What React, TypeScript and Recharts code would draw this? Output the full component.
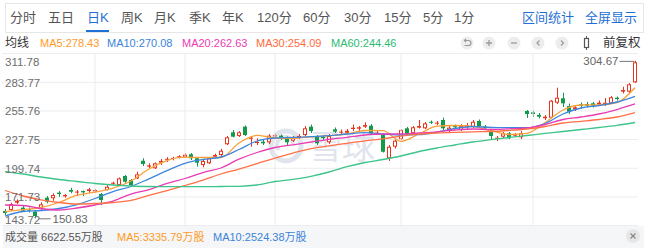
import React from 'react';
import { ComposedChart, Bar, Line, XAxis, YAxis, CartesianGrid, ReferenceLine } from 'recharts';

// daily candles, oldest first (前复权 prices)
const openPrices = [
    157.98, 158.96, 166.1, 161.2, 159.4, 157.3, 159.9, 170.97, 170.4, 175.9,
    172.3, 178.5, 176.0, 177.5, 177.5, 177.2, 174.6, 178.5, 184.6, 183.4,
    192.2, 188.3, 189.9, 207.1, 201.3, 199.7, 205.2, 208.2, 208.8, 210.3,
    210.8, 213.4, 209.5, 202.9, 204.6, 211.0, 212.7, 223.2, 234.9, 231.3,
    240.4, 228.6, 224.4, 225.7, 225.1, 230.9, 231.6, 230.0, 226.7, 230.0,
    232.2, 240.4, 230.3, 230.6, 225.1, 237.8, 234.5, 234.5, 238.1, 238.4,
    240.4, 241.3, 233.5, 232.2, 209.5, 220.8, 228.3, 238.8, 233.9, 239.4,
    238.8, 245.2, 243.3, 246.9, 236.1, 241.0, 237.1, 239.8, 240.1, 245.9,
    240.4, 235.5, 229.0, 230.6, 233.9, 231.6, 230.0, 255.7, 254.4, 251.8,
    248.6, 249.1, 263.8, 268.1, 260.6, 257.6, 262.2, 262.5, 263.2, 262.2,
    262.5, 263.2, 268.7, 274.6, 274.6, 283.7,
];
const highPrices = [
    159.9, 166.1, 169.4, 162.9, 161.5, 159.0, 166.5, 172.6, 175.3, 177.5,
    174.5, 180.7, 178.5, 178.0, 180.4, 179.5, 175.6, 183.4, 186.6, 190.8,
    193.2, 189.2, 196.4, 209.5, 204.6, 205.5, 208.8, 210.6, 211.0, 212.5,
    214.6, 214.6, 210.5, 207.8, 210.5, 214.1, 218.6, 231.3, 237.1, 236.1,
    241.5, 230.3, 229.0, 227.4, 233.2, 233.5, 232.7, 230.8, 231.3, 233.2,
    241.0, 242.5, 232.2, 232.2, 233.2, 239.6, 237.6, 238.1, 242.5, 241.0,
    244.6, 242.9, 236.1, 233.7, 222.5, 227.8, 238.1, 240.1, 241.0, 246.9,
    244.9, 246.4, 245.9, 249.2, 241.0, 242.5, 242.9, 244.0, 246.9, 247.4,
    242.0, 237.1, 231.3, 235.2, 235.2, 234.2, 236.1, 256.7, 256.2, 253.7,
    251.8, 266.4, 278.5, 273.6, 263.0, 261.1, 264.0, 264.5, 264.5, 266.0,
    268.4, 270.3, 269.9, 279.4, 283.0, 304.67,
];
const lowPrices = [
    154.1, 158.0, 164.8, 157.0, 156.5, 150.83, 158.5, 165.5, 168.0, 171.8,
    171.0, 175.3, 172.6, 172.6, 175.5, 176.0, 163.8, 178.0, 183.4, 182.5,
    185.6, 182.4, 189.2, 201.9, 199.7, 199.0, 202.9, 205.9, 207.5, 209.3,
    209.8, 207.8, 201.3, 200.7, 203.9, 209.8, 211.7, 222.4, 230.0, 230.3,
    231.3, 220.8, 222.5, 222.5, 223.4, 229.5, 227.4, 222.5, 225.4, 228.3,
    231.3, 234.2, 222.5, 227.4, 223.4, 234.2, 232.7, 233.2, 236.1, 236.1,
    239.1, 232.2, 232.2, 215.1, 206.8, 219.0, 227.4, 232.2, 233.2, 238.6,
    238.1, 243.0, 242.0, 237.1, 234.2, 238.1, 236.1, 238.1, 239.1, 240.1,
    237.1, 228.3, 226.4, 229.3, 228.3, 230.3, 228.3, 248.9, 249.8, 248.4,
    246.9, 248.9, 262.5, 259.6, 252.8, 255.7, 258.1, 259.1, 259.1, 260.6,
    260.6, 262.5, 265.9, 272.8, 273.3, 283.0,
];
const closePrices = [
    156.03, 164.82, 168.0, 158.3, 158.5, 153.1, 164.5, 167.07, 173.6, 174.6,
    173.6, 176.8, 177.0, 176.2, 179.2, 178.5, 168.7, 181.7, 185.6, 189.9,
    186.6, 183.4, 193.8, 203.9, 202.6, 204.6, 206.9, 209.0, 209.8, 211.5,
    213.0, 209.5, 205.2, 206.8, 209.5, 212.7, 216.9, 230.0, 230.6, 234.9,
    232.2, 229.6, 225.4, 224.1, 231.6, 231.9, 229.0, 225.1, 230.0, 231.3,
    238.8, 236.1, 224.1, 229.3, 231.3, 235.5, 235.5, 236.4, 239.4, 239.8,
    242.0, 233.9, 234.5, 215.9, 220.8, 226.7, 237.1, 233.2, 239.8, 241.0,
    243.6, 244.3, 244.3, 238.8, 239.4, 239.8, 241.0, 241.7, 245.2, 241.0,
    238.8, 231.3, 229.6, 233.9, 229.0, 232.9, 233.9, 252.8, 252.8, 250.1,
    250.1, 265.8, 268.7, 263.2, 255.0, 259.3, 260.6, 260.9, 260.9, 263.8,
    263.8, 269.1, 267.4, 276.2, 281.8, 303.3,
];

// moving averages, read every third trading day
const MA_STEP = 3;
const ma5 = [
    157.3, 159.25, 161.4, 166.29, 173.42, 176.35, 180.45, 187.29, 199.02, 207.32,
    210.55, 210.26, 210.26, 224.42, 231.95, 229.31, 229.02, 230.48, 231.56, 233.22,
    236.64, 236.45, 226.09, 233.22, 240.84, 241.53, 240.55, 236.64, 232.73, 233.9,
    244.16, 256.67, 261.55, 261.75, 264.0, 278.43,
];
const ma10 = [
    153.09, 157.49, 158.47, 160.42, 164.33, 170.19, 177.03, 181.92, 189.44, 197.36,
    204.59, 208.3, 210.75, 218.08, 226.38, 229.31, 229.9, 230.58, 231.56, 233.22,
    234.49, 233.22, 232.24, 232.53, 234.98, 238.59, 240.55, 239.57, 239.37, 239.37,
    243.48, 252.76, 258.62, 261.07, 264.49, 270.08,
];
const ma20 = [
    163.84, 163.36, 160.43, 158.96, 160.91, 163.84, 167.75, 174.59, 178.99, 185.05,
    189.74, 195.6, 200.0, 208.6, 215.14, 220.03, 222.67, 225.4, 227.94, 230.0,
    232.24, 233.22, 233.22, 234.2, 235.37, 237.13, 238.1, 237.62, 238.3, 239.08,
    242.5, 247.39, 249.83, 252.76, 257.16, 262.63,
];
const ma30 = [
    178.01, 172.64, 168.92, 166.29, 164.82, 165.31, 166.29, 168.44, 173.32, 177.81,
    182.9, 188.27, 194.14, 199.02, 204.39, 209.77, 214.65, 218.86, 221.69, 224.13,
    226.57, 228.53, 231.07, 233.02, 234.19, 234.88, 235.37, 235.66, 236.64, 238.1,
    240.55, 243.97, 245.63, 247.39, 249.83, 254.09,
];
const ma60 = [
    196.58, 194.13, 191.2, 188.76, 186.8, 184.85, 183.39, 182.41, 181.92, 181.73,
    181.73, 181.73, 181.92, 182.12, 183.39, 186.81, 188.96, 191.89, 196.09, 201.27,
    205.37, 208.3, 211.73, 216.12, 219.54, 222.47, 225.4, 227.65, 229.8, 231.75,
    233.8, 235.66, 237.62, 239.57, 241.72, 244.46,
];

const yTicks = [143.72, 171.73, 199.74, 227.75, 255.76, 283.77, 311.78];
// first trading day of each month (candle index)
const monthStarts = [15, 30, 45, 66, 88];

const tabs = ['分时', '五日', '日K', '周K', '月K', '季K', '年K', '120分', '60分', '30分', '15分', '5分', '1分'];
const activeTab = '日K';
const volumeText = { total: '6622.55', ma5: '3335.79', ma10: '2524.38' };

const UP = '#e8361e';
const DOWN = '#12994a';
const BLUE = '#1f6fd6';
const FONT = '"Liberation Sans", Arial, "Noto Sans CJK SC", sans-serif';

const MA_SERIES = [
    { key: 'ma5', name: 'MA5', values: ma5, color: '#f9a03a', text: '#ff9a1f', left: 40 },
    { key: 'ma10', name: 'MA10', values: ma10, color: '#3d86dc', text: '#3a84db', left: 107 },
    { key: 'ma20', name: 'MA20', values: ma20, color: '#e83cb4', text: '#e93db6', left: 182 },
    { key: 'ma30', name: 'MA30', values: ma30, color: '#ff7047', text: '#ff6a40', left: 256 },
    { key: 'ma60', name: 'MA60', values: ma60, color: '#3cc48a', text: '#2bbb72', left: 331 },
];

// tab label left edges in the header bar
const tabLeft = [10, 48, 87, 121, 154, 189, 222, 257, 303, 344, 384, 423, 454];

const rows = openPrices.map((o, i) => {
    const row: any = { i, o, h: highPrices[i], l: lowPrices[i], c: closePrices[i] };
    MA_SERIES.forEach((s) => {
        row[s.key] = i % MA_STEP === 0 ? s.values[i / MA_STEP] : null;
    });
    return row;
});

const maxIdx = highPrices.indexOf(Math.max(...highPrices));
const minIdx = lowPrices.indexOf(Math.min(...lowPrices));

const Candle = (props: any) => {
    const { x, y, width, height, payload } = props;
    const { o, h, l, c, i } = payload;
    const top = Math.min(y, y + height);
    const span = Math.abs(height);
    const k = h > l ? span / (h - l) : 0;
    const yOf = (v: number) => top + (h - v) * k;
    const cx = Math.floor(x + width / 2) + 0.5;
    const up = c >= o;
    const color = up ? UP : DOWN;
    const bTop = yOf(Math.max(o, c));
    const bBot = yOf(Math.min(o, c));
    const bh = Math.max(bBot - bTop, 1);

    let body;
    if (!up || bh < 2.5) {
        body = <rect x={x} y={bTop} width={width} height={bh} fill={color} />;
    } else {
        body = <rect x={x + 0.5} y={bTop + 0.5} width={width - 1} height={bh - 1} fill="#fff" stroke={color} strokeWidth={1} />;
    }

    return (
        <g>
            <line x1={cx} x2={cx} y1={top} y2={top + span} stroke={color} strokeWidth={1} />
            {body}
            {i === maxIdx && (
                <g>
                    <line x1={cx - 16} x2={cx - 1} y1={top + 0.5} y2={top + 0.5} stroke="#777" />
                    <text x={cx - 17} y={top + 4} textAnchor="end" fontSize={11.5} fill="#666" fontFamily={FONT}>
                        {h.toFixed(2)}
                    </text>
                </g>
            )}
            {i === minIdx && (
                <g>
                    <line x1={cx + 3} x2={cx + 15} y1={top + span + 0.5} y2={top + span + 0.5} stroke="#777" />
                    <text x={cx + 17} y={top + span + 5} fontSize={11.5} fill="#666" fontFamily={FONT}>
                        {l.toFixed(2)}
                    </text>
                </g>
            )}
        </g>
    );
};

const YTick = (props: any) => {
    const { y, payload } = props;
    const v = Number(payload.value);
    let dy = 4.5;
    if (Math.abs(v - yTicks[yTicks.length - 1]) < 0.001) dy = 12.5;
    if (Math.abs(v - yTicks[0]) < 0.001) dy = -1.8;
    return (
        <text x={5} y={y + dy} fontSize={11.5} fill="#6e6e6e" fontFamily={FONT} textAnchor="start">
            {v.toFixed(2)}
        </text>
    );
};

const IconRow = () => {
    const centers = [467, 489, 514, 538, 562];
    const g = '#9a9a9a';
    return (
        <svg width={647} height={20} style={{ position: 'absolute', left: 0, top: 33 }}>
            {centers.map((cx) => (
                <circle key={cx} cx={cx} cy={10} r={6.5} fill="#ededed" />
            ))}
            <path d="M464.5 7.5 H468.5 A2.5 2.5 0 0 1 468.5 12.5 H464.5 M466 6 L464.5 7.5 L466 9" stroke={g} strokeWidth={1.2} fill="none" />
            <path d="M486 10 H492 M489 7 V13" stroke={g} strokeWidth={1.3} />
            <path d="M511 10 H517" stroke={g} strokeWidth={1.3} />
            <path d="M539.5 7.5 L537 10 L539.5 12.5" stroke={g} strokeWidth={1.2} fill="none" />
            <path d="M561 7.5 L563.5 10 L561 12.5" stroke={g} strokeWidth={1.2} fill="none" />
            <line x1={586.5} x2={586.5} y1={3} y2={17} stroke="#555" strokeWidth={1} />
            <rect x={584.5} y={5.5} width={4} height={9} fill="#fff" stroke="#555" strokeWidth={1.2} />
        </svg>
    );
};

const Watermark = () => (
    <svg width={647} height={248} style={{ position: 'absolute', left: 0, top: 0 }}>
        <circle cx={286} cy={146} r={15} fill="none" stroke="#e0e4ec" strokeWidth={5} />
        <path d="M279 150 A8 8 0 1 1 293 144" fill="none" stroke="#e0e4ec" strokeWidth={4} />
        <text x={309} y={159} fontSize={33} fill="#e0e4ec" fontFamily='"Noto Sans CJK SC", sans-serif'>
            雪球
        </text>
    </svg>
);

export default function App() {
    return (
        <div
            style={{
                position: 'absolute',
                left: 0,
                top: 0,
                width: 647,
                height: 248,
                overflow: 'hidden',
                background: '#fff',
                fontFamily: FONT,
            }}
        >
            {/* period tabs */}
            <div
                style={{
                    position: 'absolute',
                    left: 5,
                    top: 3,
                    width: 639,
                    height: 30,
                    border: '1px solid #e6e6e6',
                    boxSizing: 'border-box',
                }}
            />
            {tabs.map((t, idx) => (
                <div
                    key={t}
                    style={{
                        position: 'absolute',
                        left: tabLeft[idx],
                        top: 10,
                        fontSize: 13,
                        lineHeight: '16px',
                        color: t === activeTab ? BLUE : '#555',
                        whiteSpace: 'nowrap',
                    }}
                >
                    {t}
                </div>
            ))}
            <div style={{ position: 'absolute', left: 86, top: 30, width: 23, height: 2, background: BLUE }} />
            <div style={{ position: 'absolute', left: 522, top: 10, fontSize: 13, lineHeight: '16px', color: BLUE }}>区间统计</div>
            <div style={{ position: 'absolute', left: 585, top: 10, fontSize: 13, lineHeight: '16px', color: BLUE }}>全屏显示</div>

            {/* MA legend */}
            <div style={{ position: 'absolute', left: 5, top: 35, fontSize: 12, lineHeight: '16px', color: '#333' }}>均线</div>
            {MA_SERIES.map((s) => (
                <div
                    key={s.key}
                    style={{ position: 'absolute', left: s.left, top: 35, fontSize: 11, lineHeight: '16px', color: s.text, whiteSpace: 'nowrap' }}
                >
                    {`${s.name}:${s.values[s.values.length - 1].toFixed(2)}`}
                </div>
            ))}
            <IconRow />
            <div style={{ position: 'absolute', left: 603, top: 35, fontSize: 12.5, lineHeight: '16px', color: '#333' }}>前复权</div>

            <Watermark />

            <div style={{ position: 'absolute', left: 0, top: 50 }}>
                <ComposedChart width={647} height={176} data={rows} margin={{ top: 3.6, right: 9, bottom: 0.4, left: 2 }}>
                    <CartesianGrid vertical={false} stroke="#ececec" />
                    <XAxis dataKey="i" type="category" hide />
                    <YAxis
                        type="number"
                        domain={[yTicks[0], yTicks[yTicks.length - 1]]}
                        ticks={yTicks}
                        interval={0}
                        allowDataOverflow
                        mirror
                        width={40}
                        axisLine={false}
                        tickLine={false}
                        tick={(p: any) => <YTick {...p} />}
                    />
                    {monthStarts.map((m) => (
                        <ReferenceLine key={m} x={m} stroke="#ececec" />
                    ))}
                    <Bar dataKey={(d: any) => [d.l, d.h]} barSize={4} shape={<Candle />} isAnimationActive={false} />
                    {MA_SERIES.map((s) => (
                        <Line
                            key={s.key}
                            dataKey={s.key}
                            type="monotone"
                            stroke={s.color}
                            strokeWidth={1.3}
                            dot={false}
                            activeDot={false}
                            connectNulls
                            isAnimationActive={false}
                        />
                    ))}
                </ComposedChart>
            </div>

            {/* volume strip */}
            <div style={{ position: 'absolute', left: 3, top: 226, width: 641, height: 22, background: '#f5f6f8' }} />
            <div style={{ position: 'absolute', left: 5, top: 229, fontSize: 11, lineHeight: '16px', color: '#555', whiteSpace: 'nowrap' }}>
                {`成交量 ${volumeText.total}万股`}
            </div>
            <div style={{ position: 'absolute', left: 117, top: 229, fontSize: 11, lineHeight: '16px', color: '#ff9a1f', whiteSpace: 'nowrap' }}>
                {`MA5:${volumeText.ma5}万股`}
            </div>
            <div style={{ position: 'absolute', left: 213, top: 229, fontSize: 11, lineHeight: '16px', color: '#3a84db', whiteSpace: 'nowrap' }}>
                {`MA10:${volumeText.ma10}万股`}
            </div>
            <svg width={20} height={20} style={{ position: 'absolute', left: 623, top: 226 }}>
                <circle cx={10} cy={10} r={7} fill="#e6e6e6" />
                <path d="M7.5 7.5 L12.5 12.5 M12.5 7.5 L7.5 12.5" stroke="#888" strokeWidth={1.2} />
            </svg>
        </div>
    );
}
